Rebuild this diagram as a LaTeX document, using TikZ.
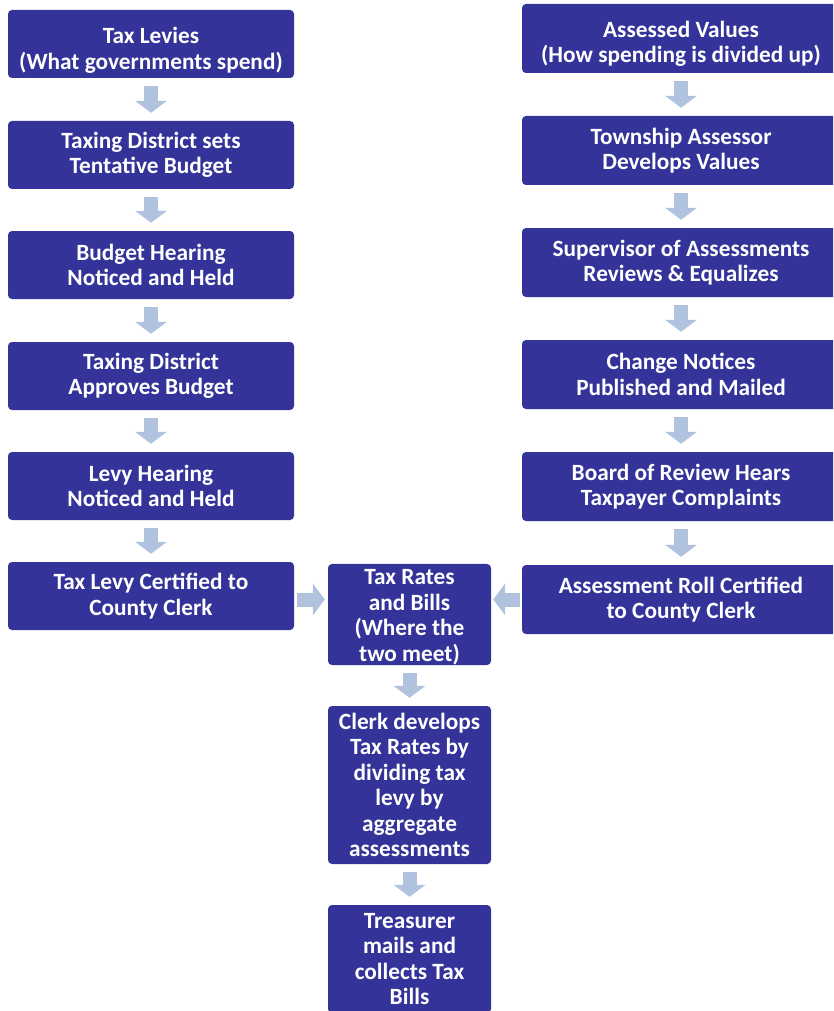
\documentclass[tikz,border=0pt]{standalone}
\usepackage{fontspec}
\setmainfont{Carlito}
\usepackage{xcolor}
\usetikzlibrary{arrows.meta}
\definecolor{boxblue}{HTML}{333399}
\definecolor{arrowblue}{HTML}{B0C2DE}
\tikzset{
  stepbox/.style={rectangle,rounded corners=4pt,fill=boxblue,text=white,align=center,
    inner sep=0pt,font=\bfseries\fontsize{23.3}{25.5}\selectfont},
  flow/.style={draw=arrowblue,line width=14pt,
    -{Triangle[width=32pt,length=12pt,line width=0pt]},shorten <=8pt,shorten >=8pt},
}
\begin{document}
\begin{tikzpicture}[x=1pt,y=-1pt]
\useasboundingbox (0,0) rectangle (833,1011);
\clip (0,0) rectangle (833,1011);
\node[stepbox,minimum width=286pt,minimum height=68pt] (l1) at (151,44) {\rule{0pt}{29pt}Tax Levies\\(What governments spend)};
\node[stepbox,minimum width=286pt,minimum height=68pt] (l2) at (151,155) {Taxing District sets\\Tentative Budget};
\node[stepbox,minimum width=286pt,minimum height=68pt] (l3) at (151,265) {Budget Hearing\\Noticed and Held};
\node[stepbox,minimum width=286pt,minimum height=68pt] (l4) at (151,376) {Taxing District\\Approves Budget};
\node[stepbox,minimum width=286pt,minimum height=68pt] (l5) at (151,486) {Levy Hearing\\Noticed and Held};
\node[stepbox,minimum width=286pt,minimum height=68pt] (l6) at (151,596) {Tax Levy Certified to\\County Clerk};
\node[stepbox,minimum width=318pt,minimum height=69pt] (r1) at (681,38.5) {\rule{0pt}{27pt}Assessed Values\\(How spending is divided up)};
\node[stepbox,minimum width=318pt,minimum height=69pt] (r2) at (681,150.5) {Township Assessor\\Develops Values};
\node[stepbox,minimum width=318pt,minimum height=69pt] (r3) at (681,262.5) {Supervisor of Assessments\\Reviews \& Equalizes};
\node[stepbox,minimum width=318pt,minimum height=69pt] (r4) at (681,374.5) {Change Notices\\Published and Mailed};
\node[stepbox,minimum width=318pt,minimum height=69pt] (r5) at (681,486.5) {Board of Review Hears\\Taxpayer Complaints};
\node[stepbox,minimum width=318pt,minimum height=69pt] (r6) at (681,599.5) {Assessment Roll Certified\\to County Clerk};
\node[stepbox,minimum width=163pt,minimum height=99pt] (mid) at (409.5,614.5) {\rule{0pt}{21pt}Tax Rates\\and Bills\\(Where the\\two meet)};
\node[stepbox,minimum width=163pt,minimum height=158pt] (clerk) at (409.5,785) {Clerk develops\\Tax Rates by\\dividing tax\\levy by\\aggregate\\assessments};
\node[stepbox,minimum width=163pt,minimum height=108pt] (treas) at (409.5,959) {Treasurer\\mails and\\collects Tax\\Bills};
\draw[flow] (l1) -- (l2);
\draw[flow] (l2) -- (l3);
\draw[flow] (l3) -- (l4);
\draw[flow] (l4) -- (l5);
\draw[flow] (l5) -- (l6);
\draw[flow] (r1) -- (r2);
\draw[flow] (r2) -- (r3);
\draw[flow] (r3) -- (r4);
\draw[flow] (r4) -- (r5);
\draw[flow] (r5) -- (r6);
\draw[flow,shorten <=3pt,shorten >=3pt] (l6.east |- r6.west) -- (mid.west |- r6.west);
\draw[flow,shorten <=2pt,shorten >=2pt] (r6.west) -- (mid.east |- r6.west);
\draw[flow] (mid) -- (clerk);
\draw[flow] (clerk) -- (treas);
\end{tikzpicture}
\end{document}
